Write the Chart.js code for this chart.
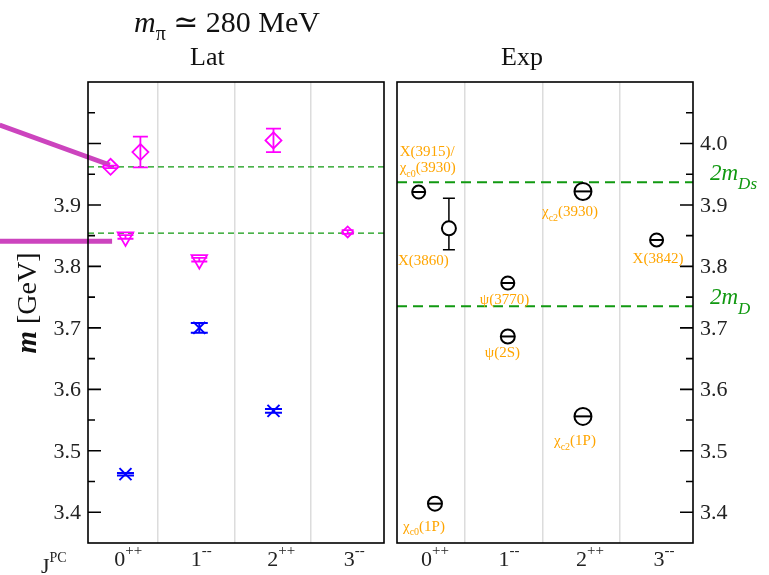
<!DOCTYPE html>
<html>
<head>
<meta charset="utf-8">
<script src="https://cdn.jsdelivr.net/npm/chart.js@4.4.0/dist/chart.umd.min.js"></script>
<style>
  body { margin: 0; background: #fff; }
  #wrap { position: relative; width: 769px; height: 575px; overflow: hidden; background: #fff; }
  canvas { position: absolute; top: 0; }
</style>
</head>
<body>
<div id="wrap">
  <canvas id="lat" width="390" height="575" style="left:0"></canvas>
  <canvas id="exp" width="379" height="575" style="left:390px"></canvas>
</div>
<script>
// J^PC channels, shared by both panels
const channels = ["0^{++}", "1^{--}", "2^{++}", "3^{--}"];

// Lattice panel (masses in GeV)
const latDiamondX = [-0.12, 0.27, 2.01];
const latDiamondY = [3.962, 3.986, 4.005];
const latDiamondErr = [0.002, 0.025, 0.019];

const latTriangleX = [0.075, 1.04];
const latTriangleY = [3.848, 3.811];
const latTriangleErr = [0.003, 0.003];

const latStarX = [2.98];
const latStarY = [3.856];
const latStarErr = [0.003];

const latBlueX = [0.075, 1.04, 2.01];
const latBlueY = [3.462, 3.700, 3.565];
const latBlueErr = [0.002, 0.008, 0.003];

const latThresholds = [3.962, 3.854];

// overlay arrows pointing into the lattice panel
const arrowUpperX = [-1.57, -0.13];
const arrowUpperY = [4.030, 3.965];
const arrowLowerX = [-1.57, -0.10];
const arrowLowerY = [3.841, 3.841];

// Experiment panel
const expNames = ["X(3915)/\nχ_{c0}(3930)", "X(3860)", "χ_{c0}(1P)", "ψ(3770)", "ψ(2S)", "χ_{c2}(3930)", "χ_{c2}(1P)", "X(3842)"];
const expX = [-0.10, 0.29, 0.11, 1.05, 1.05, 2.02, 2.02, 2.97];
const expY = [3.921, 3.862, 3.414, 3.773, 3.686, 3.922, 3.556, 3.843];
const expErrUp = [0, 0.049, 0, 0, 0, 0, 0, 0];
const expErrDown = [0, 0.035, 0, 0, 0, 0, 0, 0];

const expThresholdNames = ["2m_{Ds}", "2m_{D}"];
const expThresholds = [3.937, 3.735];

// y axis ticks
const majorTicks = [3.4, 3.5, 3.6, 3.7, 3.8, 3.9, 4.0];
const minorTicks = [3.45, 3.55, 3.65, 3.75, 3.85, 3.95, 4.05];
const latTickLabels = ["3.4", "3.5", "3.6", "3.7", "3.8", "3.9", ""];
const expTickLabels = ["3.4", "3.5", "3.6", "3.7", "3.8", "3.9", "4.0"];

// styles (not data)
const expRadius = [6.5, 7, 7, 6.5, 7, 8.5, 8.5, 6.5];
const expTheta = [1, 0, 1, 1, 1, 1, 1, 1];
const expLabelOffset = [[-19, -36], [-51, 37], [-32, 27], [-28, 21], [-23, 21], [-41, 25], [-29, 29], [-24, 23]];
const SERIF = "'Liberation Serif', 'DejaVu Serif', serif";
const GREEN = "#119911";
const ORANGE = "#ffa500";
const MAGENTA = "#ff00ff";
const Y_MIN = 3.35, Y_MAX = 4.1;
const gridAt = [0.5, 1.5, 2.5];

// tiny rich text: _{sub} ^{sup} *italic*
function parseRich(str) {
  const segs = [];
  const re = /\*([^*]+)\*|([_^])\{([^}]*)\}/g;
  let last = 0, m;
  while ((m = re.exec(str))) {
    if (m.index > last) segs.push({ t: str.slice(last, m.index), s: 0 });
    if (m[1]) segs.push({ t: m[1], s: 0, it: true });
    else segs.push({ t: m[3], s: m[2] === "_" ? -1 : 1 });
    last = re.lastIndex;
  }
  if (last < str.length) segs.push({ t: str.slice(last), s: 0 });
  return segs;
}

function drawRich(ctx, str, x, y, o) {
  const size = o.size;
  const small = Math.round(size * (o.scale || 0.66));
  const font = (seg) => ((o.italic || seg.it) ? "italic " : "") + (seg.s ? small : size) + "px " + SERIF;
  const segs = parseRich(str);
  let w = 0;
  segs.forEach(s => { ctx.font = font(s); s.w = ctx.measureText(s.t).width; w += s.w; });
  let cx = x;
  if (o.align === "center") cx = x - w / 2;
  else if (o.align === "right") cx = x - w;
  else if (o.align === "first") cx = x - segs[0].w / 2;
  ctx.fillStyle = o.color || "#111";
  ctx.textAlign = "left";
  ctx.textBaseline = "alphabetic";
  segs.forEach(s => {
    ctx.font = font(s);
    const dy = s.s < 0 ? size * (o.subDrop || 0.3) : s.s > 0 ? -size * (o.supRise || 0.45) : 0;
    ctx.fillText(s.t, cx, y + dy);
    cx += s.w;
  });
  return w;
}

// error bars with caps, drawn through the y scale
function drawErrors(chart, layer) {
  const ctx = chart.ctx, ys = chart.scales.y;
  chart.data.datasets.forEach((ds, i) => {
    if (!ds.errUp) return;
    const meta = chart.getDatasetMeta(i);
    ctx.save();
    ctx.strokeStyle = ds.errColor || ds.borderColor;
    ctx.lineWidth = ds.errWidth || 1.5;
    if ((ds.errLayer || "after") === layer) {
      meta.data.forEach((pt, j) => {
        const up = ds.errUp[j], dn = ds.errDown[j];
        if (!up && !dn) return;
        const v = ds.data[j].y;
        const yT = ys.getPixelForValue(v + up), yB = ys.getPixelForValue(v - dn);
        const c = ds.capWidth / 2;
        ctx.beginPath();
        ctx.moveTo(pt.x, yT); ctx.lineTo(pt.x, yB);
        ctx.moveTo(pt.x - c, yT); ctx.lineTo(pt.x + c, yT);
        ctx.moveTo(pt.x - c, yB); ctx.lineTo(pt.x + c, yB);
        ctx.stroke();
      });
    }
    // horizontal bar through the open circles
    if (ds.thetaBar && layer === "after") {
      ctx.lineWidth = 2;
      meta.data.forEach((pt, j) => {
        if (!ds.thetaBar[j]) return;
        const r = expRadius[j];
        ctx.beginPath();
        ctx.moveTo(pt.x - r, pt.y); ctx.lineTo(pt.x + r, pt.y);
        ctx.stroke();
      });
    }
    ctx.restore();
  });
}

const errorBars = {
  id: "errorBars",
  beforeDatasetsDraw(chart) { drawErrors(chart, "before"); },
  afterDatasetsDraw(chart) { drawErrors(chart, "after"); }
};

// frame, inward y ticks, tick labels and panel texts
const panelDecor = {
  id: "panelDecor",
  afterDraw(chart, args, opts) {
    const ctx = chart.ctx, a = chart.chartArea;
    const xs = chart.scales.x, ys = chart.scales.y;
    ctx.save();
    ctx.strokeStyle = "#000";
    ctx.lineWidth = 1.6;
    ctx.strokeRect(a.left, a.top, a.right - a.left, a.bottom - a.top);

    const axisX = opts.side === "left" ? a.left : a.right;
    const dir = opts.side === "left" ? 1 : -1;
    ctx.beginPath();
    majorTicks.forEach(v => {
      const p = ys.getPixelForValue(v);
      ctx.moveTo(axisX, p); ctx.lineTo(axisX + dir * 13, p);
    });
    minorTicks.forEach(v => {
      const p = ys.getPixelForValue(v);
      ctx.moveTo(axisX, p); ctx.lineTo(axisX + dir * 7, p);
    });
    ctx.stroke();

    ctx.fillStyle = "#222";
    ctx.font = "22px " + SERIF;
    ctx.textBaseline = "middle";
    ctx.textAlign = opts.side === "left" ? "right" : "left";
    majorTicks.forEach((v, i) => {
      ctx.fillText(opts.labels[i], axisX - dir * 7, ys.getPixelForValue(v) + 1);
    });

    channels.forEach((c, i) => {
      drawRich(ctx, c, xs.getPixelForValue(i), 566, { size: 22, align: "first", scale: 0.7, supRise: 0.5, color: "#222" });
    });
    if (opts.extra) opts.extra(chart, ctx);
    ctx.restore();
  }
};

function flatLine(y, xmin, xmax) {
  return [{ x: xmin, y: y }, { x: xmax, y: y }];
}

function xyPairs(xs, ys) {
  return xs.map((x, i) => ({ x: x, y: ys[i] }));
}

function baseScales(xmin, xmax, side, yWidth) {
  return {
    x: {
      type: "linear", min: xmin, max: xmax,
      afterBuildTicks: s => { s.ticks = gridAt.map(v => ({ value: v })); },
      afterFit: s => { s.height = 32; },
      ticks: { display: false },
      grid: { color: "#dcdcdc", lineWidth: 1.5, drawTicks: false },
      border: { display: false }
    },
    y: {
      type: "linear", min: Y_MIN, max: Y_MAX, position: side,
      afterFit: s => { s.width = yWidth; },
      ticks: { display: false },
      grid: { display: false },
      border: { display: false }
    }
  };
}

// ---------- Lattice panel ----------
const LAT_XMIN = -0.415, LAT_XMAX = 3.455;
new Chart(document.getElementById("lat"), {
  type: "scatter",
  data: {
    datasets: [
      { data: xyPairs(arrowUpperX, arrowUpperY), showLine: true, borderColor: "rgb(204,68,190)", borderWidth: 5, pointRadius: 0, clip: false },
      { data: xyPairs(arrowLowerX, arrowLowerY), showLine: true, borderColor: "rgb(204,68,190)", borderWidth: 5, pointRadius: 0, clip: false },
      { data: xyPairs(latDiamondX, latDiamondY), pointStyle: "rectRot", pointRadius: 8, borderColor: MAGENTA, backgroundColor: "rgba(0,0,0,0)", borderWidth: 1.8,
        errUp: latDiamondErr, errDown: latDiamondErr, capWidth: 15, errWidth: 1.8 },
      { data: xyPairs(latTriangleX, latTriangleY), pointStyle: "triangle", pointRotation: 180, pointRadius: 9, borderColor: MAGENTA, backgroundColor: "rgba(0,0,0,0)", borderWidth: 1.8,
        errUp: latTriangleErr, errDown: latTriangleErr, capWidth: 16, errWidth: 1.8 },
      { data: xyPairs(latStarX, latStarY), pointStyle: "rectRot", pointRadius: 5.5, borderColor: MAGENTA, backgroundColor: "rgba(0,0,0,0)", borderWidth: 1.8,
        errUp: latStarErr, errDown: latStarErr, capWidth: 12, errWidth: 1.8 },
      { data: xyPairs(latBlueX, latBlueY), pointStyle: "crossRot", pointRadius: 8.5, borderColor: "#0000ff", borderWidth: 2,
        errUp: latBlueErr, errDown: latBlueErr, capWidth: 17, errWidth: 2 },
      { data: flatLine(latThresholds[0], LAT_XMIN, LAT_XMAX), showLine: true, borderColor: GREEN, borderWidth: 1.2, borderDash: [6, 4], pointRadius: 0 },
      { data: flatLine(latThresholds[1], LAT_XMIN, LAT_XMAX), showLine: true, borderColor: GREEN, borderWidth: 1.2, borderDash: [6, 4], pointRadius: 0 }
    ]
  },
  options: {
    responsive: false,
    animation: false,
    layout: { autoPadding: false, padding: { top: 82, right: 6, left: 0, bottom: 0 } },
    scales: baseScales(LAT_XMIN, LAT_XMAX, "left", 88),
    plugins: {
      legend: { display: false },
      tooltip: { enabled: false },
      panelDecor: {
        side: "left",
        labels: latTickLabels,
        extra: (chart, ctx) => {
          drawRich(ctx, "*m*_{π} ≃ 280 MeV", 227, 32, { size: 30, align: "center", scale: 0.68, subDrop: 0.25, color: "#111" });
          drawRich(ctx, "Lat", 190, 65, { size: 26, align: "left", color: "#111" });
          drawRich(ctx, "J^{PC}", 41, 573, { size: 22, align: "left", scale: 0.65, supRise: 0.5, color: "#222" });
          // axis title
          ctx.save();
          ctx.translate(29, 303);
          ctx.rotate(-Math.PI / 2);
          ctx.fillStyle = "#111";
          ctx.textBaseline = "middle";
          ctx.textAlign = "left";
          ctx.font = "bold italic 29px " + SERIF;
          const wm = ctx.measureText("m").width;
          ctx.font = "28px " + SERIF;
          const wg = ctx.measureText(" [GeV]").width;
          const x0 = -(wm + wg) / 2;
          ctx.font = "bold italic 29px " + SERIF;
          ctx.fillText("m", x0, 0);
          ctx.font = "28px " + SERIF;
          ctx.fillText(" [GeV]", x0 + wm, 0);
          ctx.restore();
        }
      }
    }
  },
  plugins: [errorBars, panelDecor]
});

// ---------- Experiment panel ----------
const EXP_XMIN = -0.38, EXP_XMAX = 3.44;
new Chart(document.getElementById("exp"), {
  type: "scatter",
  data: {
    datasets: [
      { data: xyPairs(expX, expY), pointStyle: "circle", pointRadius: c => expRadius[c.dataIndex], borderColor: "#000", borderWidth: 2,
        backgroundColor: "#fff", errUp: expErrUp, errDown: expErrDown, capWidth: 12, errWidth: 1.5, errLayer: "before", thetaBar: expTheta },
      { data: flatLine(expThresholds[0], EXP_XMIN, EXP_XMAX), showLine: true, borderColor: GREEN, borderWidth: 2, borderDash: [10, 6], pointRadius: 0 },
      { data: flatLine(expThresholds[1], EXP_XMIN, EXP_XMAX), showLine: true, borderColor: GREEN, borderWidth: 2, borderDash: [10, 6], pointRadius: 0 }
    ]
  },
  options: {
    responsive: false,
    animation: false,
    layout: { autoPadding: false, padding: { top: 82, right: 0, left: 7, bottom: 0 } },
    scales: baseScales(EXP_XMIN, EXP_XMAX, "right", 76),
    plugins: {
      legend: { display: false },
      tooltip: { enabled: false },
      panelDecor: {
        side: "right",
        labels: expTickLabels,
        extra: (chart, ctx) => {
          drawRich(ctx, "Exp", 132, 65, { size: 26, align: "center", color: "#111" });
          // state names next to each point
          chart.getDatasetMeta(0).data.forEach((pt, j) => {
            const off = expLabelOffset[j];
            expNames[j].split("\n").forEach((line, k) => {
              drawRich(ctx, line, pt.x + off[0], pt.y + off[1] + k * 16, { size: 15, align: "left", scale: 0.68, subDrop: 0.3, color: ORANGE });
            });
          });
          // threshold names on the right
          const ys = chart.scales.y;
          expThresholds.forEach((t, i) => {
            drawRich(ctx, expThresholdNames[i], 320, ys.getPixelForValue(t) - 2, { size: 23, italic: true, align: "left", scale: 0.72, subDrop: 0.4, color: GREEN });
          });
        }
      }
    }
  },
  plugins: [errorBars, panelDecor]
});
</script>
</body>
</html>
